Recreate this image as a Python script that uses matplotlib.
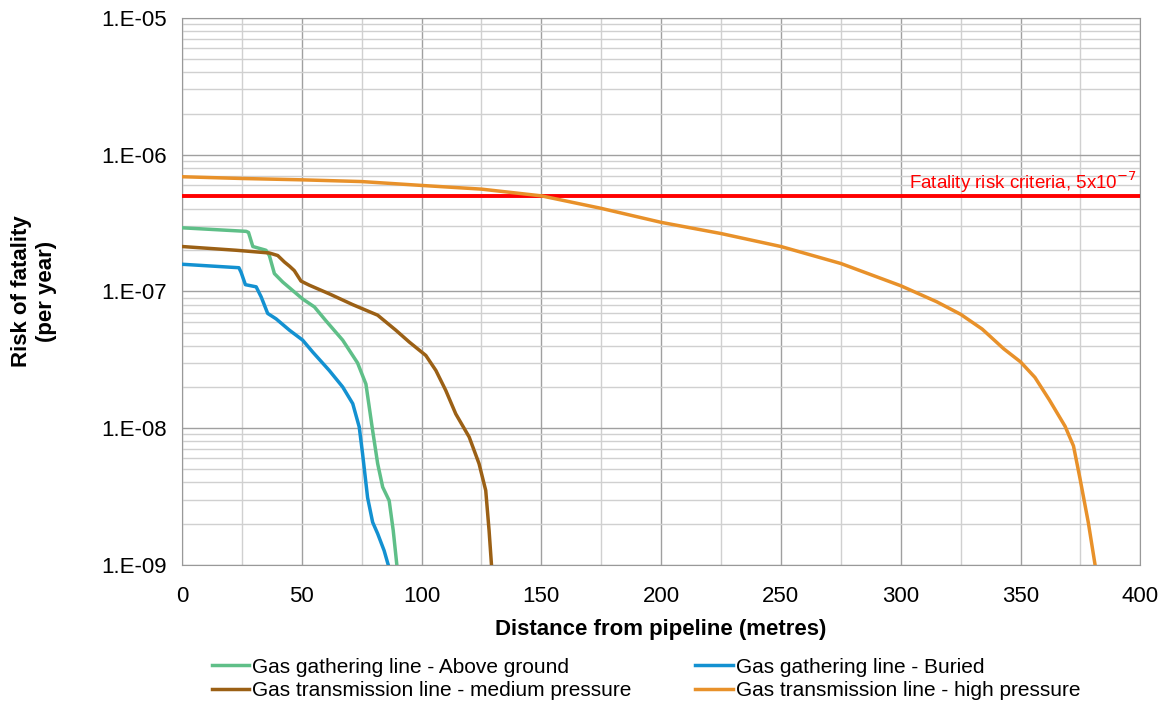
import matplotlib.pyplot as plt
from matplotlib.ticker import FixedLocator, NullFormatter

plt.rcParams['font.family'] = ['Liberation Sans', 'DejaVu Sans']

# Gas gathering line - Above ground
above_x = [0, 26.8, 27.8, 29.6, 35.1, 36.5, 38.6, 42.1, 50.4, 55.3, 60.1, 67.1, 73.3,
           76.8, 79.6, 81.7, 83.8, 86.5, 88.2, 89.7]
above_y = [2.92e-7, 2.75e-7, 2.7e-7, 2.13e-7, 2.0e-7, 1.83e-7, 1.35e-7, 1.17e-7, 8.8e-8,
           7.7e-8, 6.1e-8, 4.4e-8, 3.0e-8, 2.1e-8, 9.6e-9, 5.5e-9, 3.7e-9, 2.95e-9,
           1.78e-9, 1.0e-9]

# Gas gathering line - Buried
buried_x = [0, 23.8, 24.7, 26.5, 31.0, 33.1, 35.8, 39.3, 44.9, 50.4, 54.6, 61.5, 67.1,
            71.3, 74.0, 75.4, 77.5, 79.6, 81.7, 84.4, 86.1]
buried_y = [1.58e-7, 1.49e-7, 1.38e-7, 1.12e-7, 1.08e-7, 9.1e-8, 6.9e-8, 6.3e-8, 5.2e-8,
            4.4e-8, 3.6e-8, 2.64e-8, 2.0e-8, 1.51e-8, 1.02e-8, 6.5e-9, 3.1e-9, 2.05e-9,
            1.69e-9, 1.27e-9, 1.0e-9]

# Gas transmission line - medium pressure
medium_x = [0, 22.6, 36.5, 40.0, 42.8, 44.9, 46.9, 49.7, 53.2, 61.5, 71.3, 81.7, 89.3,
            94.9, 101.8, 106.0, 110.1, 114.3, 119.9, 124.0, 126.8, 128.2, 129.2]
medium_y = [2.13e-7, 2.0e-7, 1.91e-7, 1.83e-7, 1.64e-7, 1.53e-7, 1.42e-7, 1.19e-7,
            1.11e-7, 9.6e-8, 8.0e-8, 6.7e-8, 5.2e-8, 4.26e-8, 3.4e-8, 2.64e-8, 1.89e-8,
            1.27e-8, 8.6e-9, 5.5e-9, 3.5e-9, 1.78e-9, 1.0e-9]

# Gas transmission line - high pressure
high_x = [0, 25, 50, 75, 100, 125, 150, 175, 200, 225, 250, 275, 300, 315, 325,
          334, 343, 350, 356, 362, 368.6, 372.1, 374.9, 378.3, 381.1]
high_y = [6.9e-7, 6.7e-7, 6.55e-7, 6.36e-7, 5.96e-7, 5.6e-7, 5.0e-7, 4.05e-7, 3.2e-7,
          2.65e-7, 2.13e-7, 1.6e-7, 1.1e-7, 8.4e-8, 6.8e-8, 5.3e-8, 3.8e-8, 3.05e-8,
          2.35e-8, 1.61e-8, 1.03e-8, 7.4e-9, 4.2e-9, 2.03e-9, 1.0e-9]

criteria = 5e-7
y_ticks = [1e-9, 1e-8, 1e-7, 1e-6, 1e-5]
y_tick_labels = ['1.E-09', '1.E-08', '1.E-07', '1.E-06', '1.E-05']
x_ticks = [0, 50, 100, 150, 200, 250, 300, 350, 400]

fig = plt.figure(figsize=(11.66, 7.06), dpi=100)
ax = fig.add_axes([0.156, 0.2, 0.822, 0.7745])

ax.plot([0, 400], [criteria, criteria], color='#ff0000', lw=2.8, zorder=3)
l1, = ax.plot(above_x, above_y, color='#5fbf88', lw=2.5, zorder=4)
l2, = ax.plot(buried_x, buried_y, color='#1391d1', lw=2.5, zorder=4)
l3, = ax.plot(medium_x, medium_y, color='#9b6015', lw=2.5, zorder=4)
l4, = ax.plot(high_x, high_y, color='#e8912a', lw=2.5, zorder=4)

ax.text(398.5, criteria * 1.02, 'Fatality risk criteria, 5x10$^{-7}$', color='#ff0000',
        fontsize=13.5, ha='right', va='bottom', zorder=5)

ax.set_yscale('log')
ax.set_xlim(0, 400)
ax.set_ylim(1e-9, 1e-5)
ax.yaxis.set_major_locator(FixedLocator(y_ticks))
ax.set_yticklabels(y_tick_labels)
ax.yaxis.set_minor_locator(FixedLocator([m * 10.0 ** e for e in range(-9, -5) for m in range(2, 10)]))
ax.yaxis.set_minor_formatter(NullFormatter())
ax.set_xticks(x_ticks)
ax.xaxis.set_minor_locator(FixedLocator([25 + 50 * i for i in range(8)]))

ax.grid(which='major', color='#a0a0a0', lw=1)
ax.grid(which='minor', color='#d0d0d0', lw=1)
ax.tick_params(which='both', length=0, labelsize=16, colors='#000000')
ax.tick_params(axis='y', pad=11)
ax.tick_params(axis='x', pad=15)
for s in ax.spines.values():
    s.set_color('#999999')

ax.set_xlabel('Distance from pipeline (metres)', fontsize=16, fontweight='bold', labelpad=9)
ax.set_ylabel('Risk of fatality\n(per year)', fontsize=16, fontweight='bold', labelpad=32)

# legend fills column by column, so order handles to read row-wise like the original
ax.legend([l1, l3, l2, l4],
          ['Gas gathering line - Above ground', 'Gas transmission line - medium pressure',
           'Gas gathering line - Buried', 'Gas transmission line - high pressure'],
          loc='upper left', bbox_to_anchor=(0.031, -0.17), ncol=2, frameon=False, fontsize=15,
          handlelength=1.8, handletextpad=0.15, columnspacing=3.05, labelspacing=0.2,
          borderaxespad=0, borderpad=0)

fig.savefig('out.png', dpi=100)
